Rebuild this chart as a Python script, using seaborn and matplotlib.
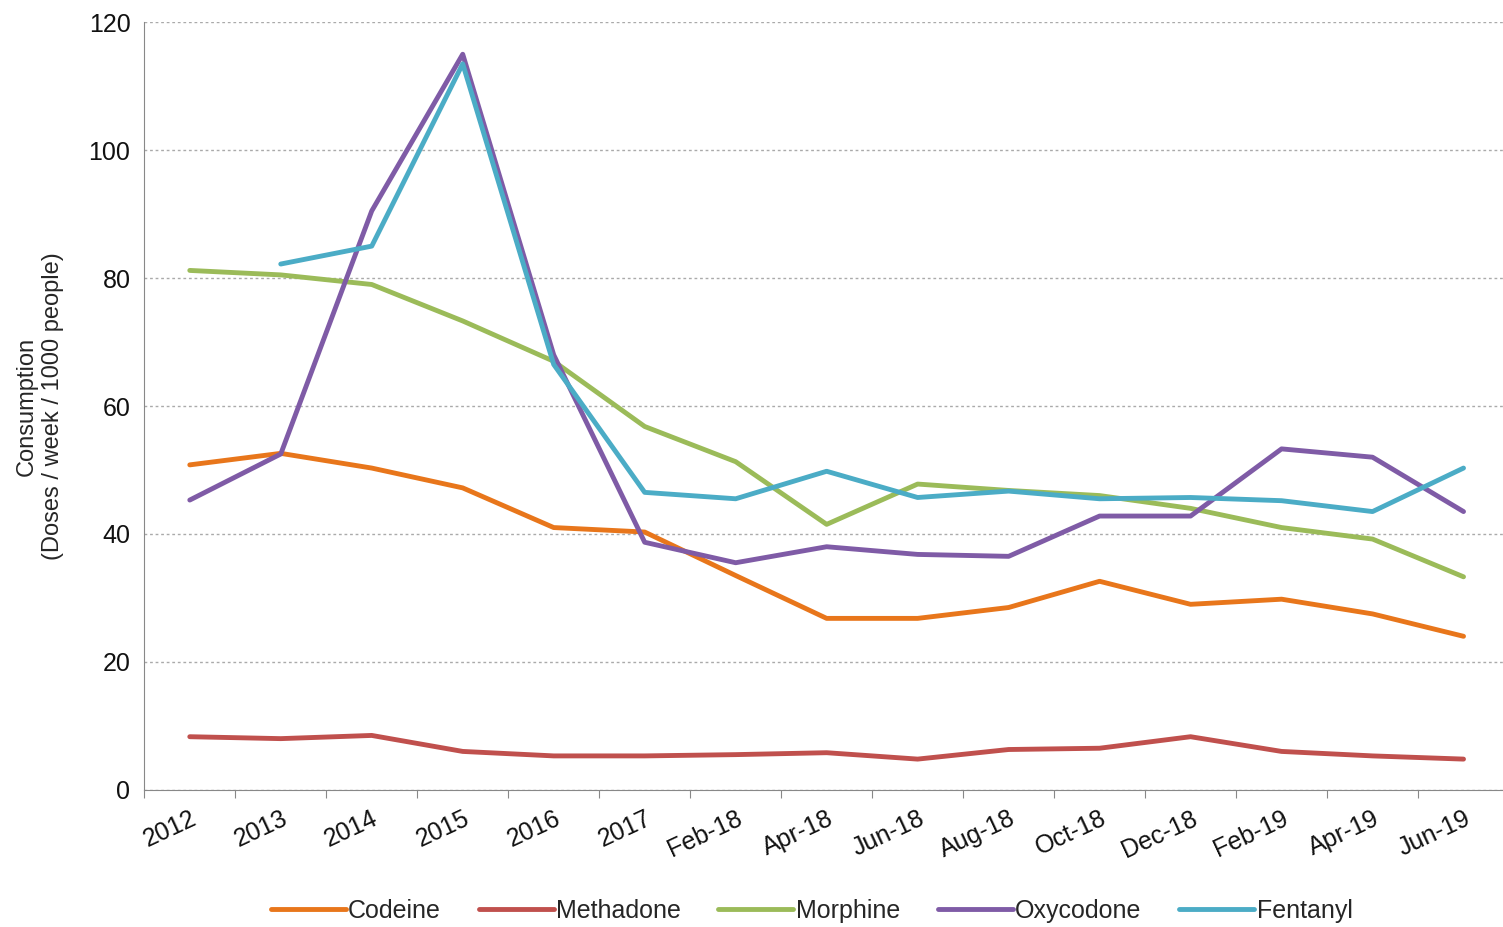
import matplotlib
matplotlib.use("Agg")
import matplotlib.pyplot as plt
import seaborn as sns
import pandas as pd
import numpy as np

categories = ["2012","2013","2014","2015","2016","2017","Feb-18","Apr-18","Jun-18","Aug-18","Oct-18","Dec-18","Feb-19","Apr-19","Jun-19"]
codeine = [50.8,52.6,50.3,47.2,41,40.3,33.5,26.8,26.8,28.5,32.6,29,29.8,27.5,24]
methadone = [8.3,8,8.5,6,5.3,5.3,5.5,5.8,4.8,6.3,6.5,8.3,6,5.3,4.8]
morphine = [81.2,80.5,79,73.3,67,56.8,51.3,41.5,47.8,46.8,46,44,41,39.2,33.3]
oxycodone = [45.3,52.5,90.5,115,68,38.7,35.5,38,36.8,36.5,42.8,42.8,53.3,52,43.5]
fentanyl = [np.nan,82.2,85,113.5,66.5,46.5,45.5,49.8,45.7,46.7,45.5,45.7,45.2,43.5,50.3]

series = {"Codeine":codeine,"Methadone":methadone,"Morphine":morphine,"Oxycodone":oxycodone,"Fentanyl":fentanyl}
colors = {"Codeine":"#E8761B","Methadone":"#C0504D","Morphine":"#9BBB59","Oxycodone":"#7F5BA6","Fentanyl":"#4BACC6"}

rows = []
for name, vals in series.items():
    for i, v in enumerate(vals):
        rows.append({"x": i, "drug": name, "value": v})
df = pd.DataFrame(rows)

sns.set_style("white")
plt.rcParams['font.family'] = ['Liberation Sans', 'DejaVu Sans']
fig = plt.figure(figsize=(15.03, 9.27), dpi=100)
ax = fig.add_axes([0.096, 0.148, 0.908, 0.828])
sns.lineplot(data=df, x="x", y="value", hue="drug", palette=colors, linewidth=3.5, ax=ax, legend=False)

ax.set_xlim(-0.5, 14.5)
ax.set_ylim(0, 120)
ax.set_yticks(range(0, 121, 20))
ax.tick_params(axis='y', labelsize=18, length=0, pad=10, labelcolor="#111111")
ax.yaxis.grid(True, linestyle=(0, (2, 2)), color="#aaaaaa", linewidth=1)
ax.set_xticks(np.arange(-0.5, 15, 1))
ax.set_xticklabels([])
ax.tick_params(axis='x', which='major', length=6, direction='out', color="#888888", bottom=True)
ax.set_xticks(np.arange(15), minor=True)
ax.set_xticklabels(categories, minor=True, rotation=25, ha='right', rotation_mode='anchor', fontsize=18, color="#111111")
ax.tick_params(axis='x', which='minor', length=0, pad=12)
ax.set_xlabel("")
ax.set_ylabel("Consumption\n(Doses / week / 1000 people)", fontsize=17, labelpad=18)
for s in ["top", "right"]:
    ax.spines[s].set_visible(False)
for s in ["left", "bottom"]:
    ax.spines[s].set_color("#888888")

handles = [plt.Line2D([0], [0], color=colors[n], lw=3.5) for n in series]
fig.legend(handles, list(series.keys()), loc="lower center", bbox_to_anchor=(0.54, -0.02), ncol=5,
           frameon=False, fontsize=18, handlelength=3, handletextpad=0.1, columnspacing=1.5)
fig.savefig("out.png", dpi=100)
